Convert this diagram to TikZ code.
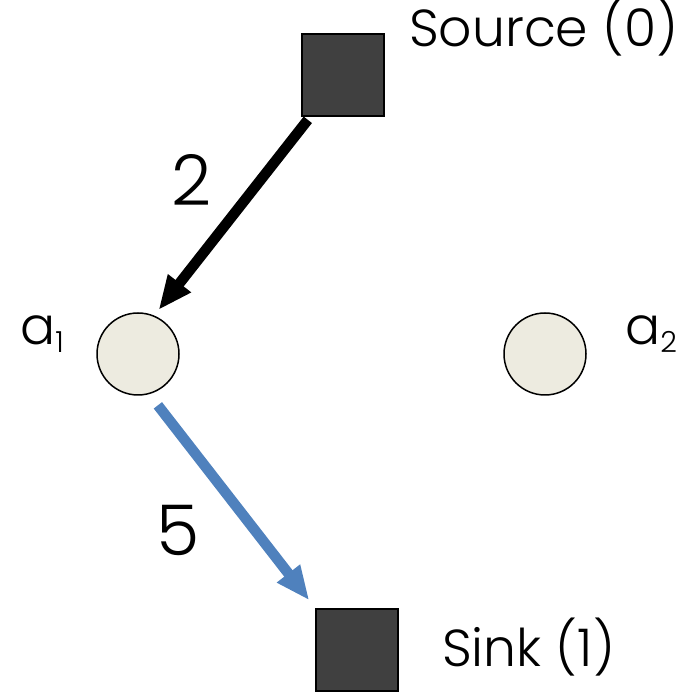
\documentclass[tikz,border=0pt]{standalone}
\usepackage{fontspec}
\setmainfont{Poppins}[UprightFont={* Light}]
\usetikzlibrary{arrows.meta}
\definecolor{boxgray}{HTML}{404040}
\definecolor{agentfill}{HTML}{EDEBE0}
\definecolor{flowblue}{HTML}{4F81BD}
\newcommand\agentsub[1]{\raisebox{-8pt}{\fontsize{29}{29}\selectfont #1}}

\begin{document}
\begin{tikzpicture}[x=1pt,y=1pt,
  terminal/.style={draw=black, line width=1.2pt, fill=boxgray, minimum size=82pt, inner sep=0pt, outer sep=0pt},
  agent/.style={circle, draw=black, line width=1.5pt, fill=agentfill, minimum size=82pt, inner sep=0pt, outer sep=0pt},
  lbl/.style={font=\fontsize{52}{60}\selectfont, inner sep=0pt},
  weight/.style={font=\fontsize{70}{78}\selectfont, inner sep=0pt},
  flow/.style={line width=10.5pt, -{Triangle[length=34pt,width=27pt]}}]
\useasboundingbox (0,0) rectangle (677,692);

% source and sink
\node[terminal] (src) at (343,617) {};
\node[terminal] (sink) at (357,42) {};
\node[lbl, anchor=base west] (srclbl) at (409,645) {Source (0)};
\node[lbl, anchor=base west] (sinklbl) at (442,25) {Sink (1)};

% agents
\node[agent] (a1) at (138,338) {};
\node[agent] (a2) at (545,338) {};
\node[lbl, anchor=base west] (a1lbl) at (20,347) {a\agentsub{1}};
\node[lbl, anchor=base west] (a2lbl) at (625,347) {a\agentsub{2}};

% flows
\draw[flow, shorten <=57pt, shorten >=56pt] (src.center) -- ([xshift=-14pt]a1.center);
\node[weight] (w1) at (192,512) {2};
\draw[flow, flowblue, shorten <=65pt, shorten >=11pt] ([xshift=-20pt]a1.center) -- (sink.north west);
\node[weight] (w2) at (178,162) {5};

\end{tikzpicture}
\end{document}
